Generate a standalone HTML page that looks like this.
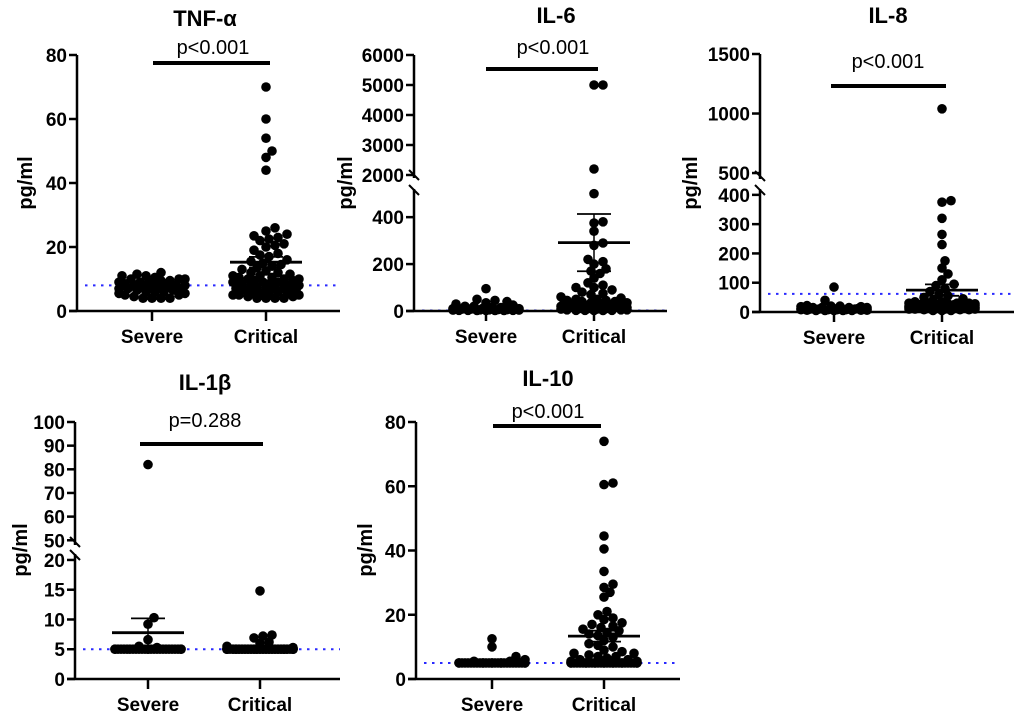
<!DOCTYPE html>
<html><head><meta charset="utf-8">
<style>
html,body{margin:0;padding:0;background:#fff;}
svg{display:block;font-family:"Liberation Sans",Arial,sans-serif;}
</style></head>
<body>
<svg id="chart" width="1020" height="715" viewBox="0 0 1020 715"></svg>
<script>
const categories = ["Severe", "Critical"];

const tnfSevere = [4,4,4,4,4.5,5,5,5.5,5.5,6,6,6,6.5,6.5,7,7,7,7,7.5,7.5,8,8,8,8,8.5,8.5,9,9,9,9.5,9.5,10,10,10,10.5,11,11,11.5,12];
const tnfCritical = [70,60,54,50,48,44,26,25,24,23.5,23,22.5,22,21,20.5,20,19,18,17.5,17,16,15.5,15,14.5,14,13.5,13,12.5,12,12,11.5,11,11,10.5,10.5,10,10,10,9.5,9.5,9,9,9,8.5,8.5,8,8,8,7.5,7.5,7,7,7,6.5,6.5,6,6,6,5.5,5.5,5,5,5,4.5,4.5,4,4,4,4];
const il6Severe = [95,50,45,40,35,30,25,20,20,15,15,12,10,10,10,8,8,6,6,5,5,4,4,3,3,3,2,2,2,2];
const il6Critical = [5000,5000,2200,500,380,375,340,290,280,220,210,200,180,170,160,140,120,110,100,100,90,80,75,70,60,55,50,50,45,45,40,40,35,35,30,30,30,25,25,25,20,20,20,15,15,15,10,10,10,8,8,5,5,5,3,3,3,2,2];
const il8Severe = [85,40,22,20,20,18,18,15,15,15,15,12,12,12,12,10,10,10,10,8,8,8,8,6,6,6,5,5,5,5,5];
const il8Critical = [1040,380,375,320,265,230,175,150,130,110,95,90,80,70,60,55,50,45,40,35,35,30,30,30,30,28,28,28,26,25,25,25,25,22,22,22,22,20,20,20,20,18,18,18,15,15,15,15,12,12,12,10,10,10,10,8,8,8,5,5,5];
const il1bSevere = [82,10.3,9.2,6.6,5.5,5.3,5,5,5,5,5,5,5,5,5,5,5,5,5,5,5,5,5,5,5,5,5,5,5,5,5,5];
const il1bCritical = [14.8,7.4,7.2,6.9,6.2,6.0,5.5,5.3,5,5,5,5,5,5,5,5,5,5,5,5,5,5,5,5,5,5,5,5,5,5,5,5,5,5,5,5,5,5,5,5,5,5,5,5,5,5,5,5,5,5,5,5,5,5,5,5,5,5];
const il10Severe = [12.5,10,7,6,5.5,5.5,5,5,5,5,5,5,5,5,5,5,5,5,5,5,5,5,5,5,5,5,5,5,5,5,5,5,5,5];
const il10Critical = [74,61,60.5,44.5,40.5,33.5,29.5,28.5,27,25.5,21,20,19,18.5,17.5,17,16.5,16,15.5,15,14.5,14,13.5,13,12,11,10.5,10,9,8.5,8,8,7.5,7,7,6.5,6,6,5.5,5.5,5,5,5,5,5,5,5,5,5,5,5,5,5,5,5,5,5,5,5,5,5,5,5,5,5,5,5,5,5,5];

const tnfTicks = [0,20,40,60,80];
const il6Ticks = [0,200,400,2000,3000,4000,5000,6000];
const il8Ticks = [0,100,200,300,400,500,1000,1500];
const il1bTicks = [0,5,10,15,20,50,60,70,80,90,100];
const il10Ticks = [0,20,40,60,80];

const refLines = [8, 2, 62, 5, 5];
const pLabels = ["p<0.001","p<0.001","p<0.001","p=0.288","p<0.001"];
const titles = ["TNF-α","IL-6","IL-8","IL-1β","IL-10"];

const NS = "http://www.w3.org/2000/svg";
const svg = document.getElementById("chart");
function mk(tag, attrs, parent){
  const e = document.createElementNS(NS, tag);
  for (const k in attrs) e.setAttribute(k, attrs[k]);
  (parent||svg).appendChild(e);
  return e;
}

const panels = [
  {key:"tnf", title:titles[0], sev:tnfSevere, crit:tnfCritical, ticks:tnfTicks, ref:refLines[0], p:pLabels[0],
   ax:77, xEnd:340, xs:152, xc:266, titleX:205, titleY:26, pX:213, pY:54, barY:63, barX0:153, barX1:270, ylabX:32, ylabY:183,
   segs:[{d0:0,d1:80,p0:311,p1:55}], brk:null},
  {key:"il6", title:titles[1], sev:il6Severe, crit:il6Critical, ticks:il6Ticks, ref:refLines[1], p:pLabels[1],
   ax:414, xEnd:667, xs:486, xc:594, titleX:556, titleY:23, pX:553, pY:54, barY:69, barX0:486, barX1:598, ylabX:352, ylabY:183,
   segs:[{d0:0,d1:520,p0:311,p1:189},{d0:1900,d1:6000,p0:178,p1:55}], brk:[189,178]},
  {key:"il8", title:titles[2], sev:il8Severe, crit:il8Critical, ticks:il8Ticks, ref:refLines[2], p:pLabels[2],
   ax:760, xEnd:1014, xs:834, xc:942, titleX:888, titleY:23, pX:888, pY:68, barY:86, barX0:831, barX1:946, ylabX:697, ylabY:183,
   segs:[{d0:0,d1:420,p0:312,p1:189},{d0:450,d1:1500,p0:179,p1:54}], brk:[189,179]},
  {key:"il1b", title:titles[3], sev:il1bSevere, crit:il1bCritical, ticks:il1bTicks, ref:refLines[3], p:pLabels[3],
   ax:75, xEnd:340, xs:148, xc:260, titleX:205, titleY:390, pX:205, pY:427, barY:444, barX0:140, barX1:263, ylabX:27, ylabY:550,
   segs:[{d0:0,d1:21,p0:679,p1:554},{d0:48,d1:100,p0:545,p1:422}], brk:[554,545]},
  {key:"il10", title:titles[4], sev:il10Severe, crit:il10Critical, ticks:il10Ticks, ref:refLines[4], p:pLabels[4],
   ax:416, xEnd:680, xs:492, xc:604, titleX:548, titleY:386, pX:548, pY:418, barY:426, barX0:493, barX1:601, ylabX:372, ylabY:550,
   segs:[{d0:0,d1:80,p0:679,p1:422}], brk:null}
];

function makeScale(segs){
  return function(v){
    for (const s of segs){
      if (v >= s.d0 && v <= s.d1) return s.p0 + (v - s.d0) * (s.p1 - s.p0) / (s.d1 - s.d0);
    }
    let s = v < segs[0].d0 ? segs[0] : segs[segs.length-1];
    for (let i=0;i<segs.length-1;i++){ if (v > segs[i].d1 && v < segs[i+1].d0) s = segs[i]; }
    return s.p0 + (v - s.d0) * (s.p1 - s.p0) / (s.d1 - s.d0);
  };
}

function swarm(values, cx, y){
  const pts = [];
  const sorted = values.slice().sort((a,b)=>a-b);
  const minD = 7.5, maxOff = 34;
  for (const v of sorted){
    const py = y(v);
    let best = 0, bestOverlap = Infinity;
    for (let k=0;k<=24;k++){
      for (const sgn of (k===0?[1]:[1,-1])){
        const off = sgn * k * 3;
        if (Math.abs(off) > maxOff) continue;
        let overlap = 0;
        for (const q of pts){
          const d = Math.hypot(q.x-(cx+off), q.y-py);
          if (d < minD) overlap += (minD - d);
        }
        if (overlap < bestOverlap - 1e-9){ bestOverlap = overlap; best = off; }
        if (overlap === 0) break;
      }
      if (bestOverlap === 0) break;
    }
    pts.push({x:cx+best, y:py, v:v});
  }
  return pts;
}

function stats(a){
  const n=a.length, m=a.reduce((s,v)=>s+v,0)/n;
  const sd=Math.sqrt(a.reduce((s,v)=>s+(v-m)*(v-m),0)/(n-1));
  return {mean:m, sem:sd/Math.sqrt(n)};
}

panels.forEach((P)=>{
  const g = mk("g", {});
  
  
  const y = makeScale(P.segs);
  const y0 = y(0);

  const t = mk("text", {x:P.titleX, y:P.titleY, "text-anchor":"middle", "font-size":"22", "font-weight":"bold", fill:"#000"}, g);
  t.textContent = P.title;
  
  

  const yl = mk("text", {x:0, y:0, transform:`translate(${P.ylabX},${P.ylabY}) rotate(-90)`, "text-anchor":"middle", "font-size":"20", "font-weight":"bold", fill:"#000"}, g);
  yl.textContent = "pg/ml";
  
  

  const rl = mk("line", {x1:P.ax+8, x2:P.xEnd, y1:y(P.ref), y2:y(P.ref), stroke:"#2a2aff", "stroke-width":"2", "stroke-dasharray":"2.5 5.5"}, g);
  
  

  const topY = P.segs[P.segs.length-1].p1;
  if (P.brk){
    const a1 = mk("line", {x1:P.ax, x2:P.ax, y1:y0, y2:P.brk[0], stroke:"#000", "stroke-width":"2.5"}, g);
    
    
    const a2 = mk("line", {x1:P.ax, x2:P.ax, y1:P.brk[1], y2:topY, stroke:"#000", "stroke-width":"2.5"}, g);
    
    
    [P.brk[1], P.brk[0]].forEach((by,i)=>{
      const bm = mk("line", {x1:P.ax-5, x2:P.ax+5, y1:by-7+(i?3:-1), y2:by+3+(i?3:-1), stroke:"#000", "stroke-width":"2"}, g);
      
      
    });
  } else {
    const a = mk("line", {x1:P.ax, x2:P.ax, y1:y0, y2:topY, stroke:"#000", "stroke-width":"2.5"}, g);
    
    
  }
  P.ticks.forEach(tv=>{
    const ty = y(tv);
    const tk = mk("line", {x1:P.ax-8, x2:P.ax, y1:ty, y2:ty, stroke:"#000", "stroke-width":"2.5"}, g);
    
    
    const tl = mk("text", {x:P.ax-10, y:ty+7, "text-anchor":"end", "font-size":"19", "font-weight":"bold", fill:"#000"}, g);
    tl.textContent = String(tv);
    
    
  });

  const xa = mk("line", {x1:P.ax-8, x2:P.xEnd, y1:y0, y2:y0, stroke:"#000", "stroke-width":"2.5"}, g);
  
  
  [P.xs, P.xc].forEach((cx,i)=>{
    const tk = mk("line", {x1:cx, x2:cx, y1:y0, y2:y0+10, stroke:"#000", "stroke-width":"2.5"}, g);
    
    
    const tl = mk("text", {x:cx, y:y0+32, "text-anchor":"middle", "font-size":"19", "font-weight":"bold", fill:"#000"}, g);
    tl.textContent = categories[i];
    
    
  });

  const sb = mk("line", {x1:P.barX0, x2:P.barX1, y1:P.barY, y2:P.barY, stroke:"#000", "stroke-width":"4"}, g);
  
  
  const pt = mk("text", {x:P.pX, y:P.pY, "text-anchor":"middle", "font-size":"20", fill:"#000"}, g);
  pt.textContent = P.p;
  
  

  [[P.sev, P.xs, "severe"], [P.crit, P.xc, "critical"]].forEach(([vals, cx, nm])=>{
    swarm(vals, cx, y).forEach(pnt=>{
      const c = mk("circle", {cx:pnt.x.toFixed(1), cy:pnt.y.toFixed(1), r:"4.8", fill:"#000"}, g);
      
      
    });
    const s = stats(vals);
    const ym = y(s.mean), yh = y(s.mean + s.sem), yl2 = y(Math.max(0, s.mean - s.sem));
    const vl = mk("line", {x1:cx, x2:cx, y1:yh, y2:yl2, stroke:"#000", "stroke-width":"1.5"}, g);
    
    
    [yh, yl2].forEach(cy=>{
      const cp = mk("line", {x1:cx-17, x2:cx+17, y1:cy, y2:cy, stroke:"#000", "stroke-width":"1.8"}, g);
      
      
    });
    const ml = mk("line", {x1:cx-36, x2:cx+36, y1:ym, y2:ym, stroke:"#000", "stroke-width":"2.8"}, g);
    
    
  });
});
</script>
</body></html>
